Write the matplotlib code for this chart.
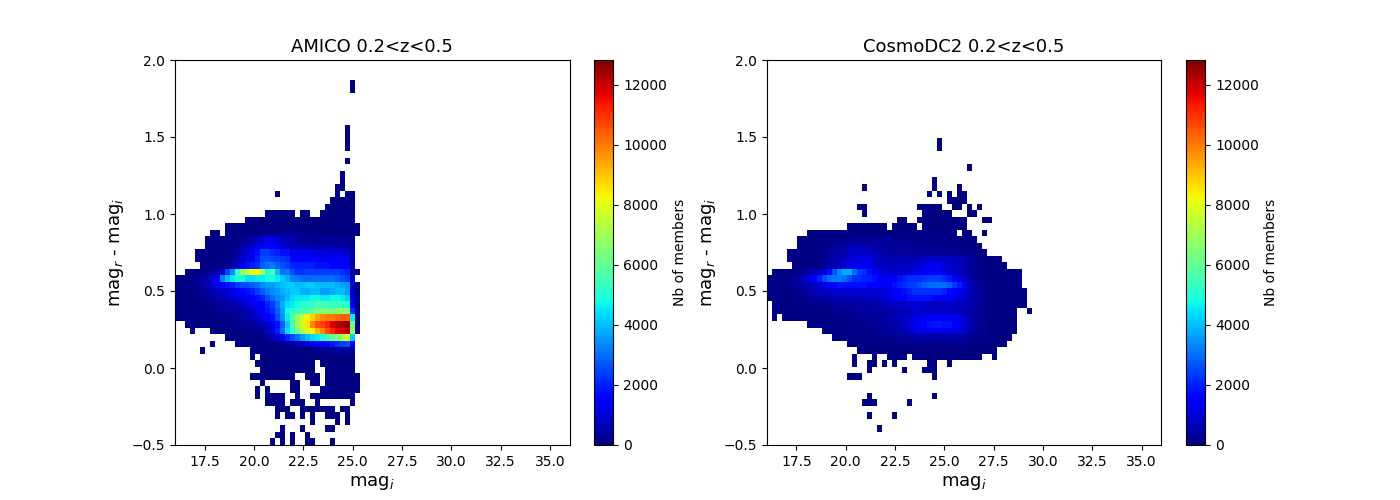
import numpy as np
import matplotlib
matplotlib.use('Agg')
import matplotlib.pyplot as plt

mag_edges = np.linspace(16, 36, 80)
color_edges = np.linspace(-0.5, 2, 60)

# occupied histogram bins, colour row -> (first mag bin, last mag bin)
amico_bins = {
    55: [(35, 35)], 54: [(35, 35)],
    48: [(34, 34)], 47: [(34, 34)], 46: [(34, 34)], 45: [(34, 34)], 43: [(34, 34)],
    41: [(33, 33)], 40: [(33, 33)], 39: [(32, 33)],
    38: [(20, 20), (32, 32), (34, 35)],
    37: [(31, 35)], 36: [(30, 35)],
    35: [(18, 23), (25, 26), (29, 35)],
    34: [(14, 35)], 33: [(10, 36)], 32: [(7, 8), (10, 36)],
    31: [(6, 35)], 30: [(6, 35)], 29: [(4, 35)], 28: [(4, 35)], 27: [(5, 35)],
    26: [(2, 36)], 25: [(0, 35)],
    24: [(0, 36)], 23: [(0, 36)], 22: [(0, 36)], 21: [(0, 36)], 20: [(0, 36)], 19: [(0, 36)],
    18: [(2, 36)], 17: [(3, 3), (7, 36)], 16: [(10, 35)],
    15: [(7, 7), (12, 35)], 14: [(5, 5), (15, 35)], 13: [(15, 15), (17, 35)],
    12: [(16, 27), (29, 35)], 11: [(17, 27), (30, 35)],
    10: [(15, 23), (26, 28), (30, 36)],
    9: [(17, 17), (23, 24), (27, 28), (30, 36)],
    8: [(16, 16), (18, 18), (23, 24), (29, 36)],
    7: [(16, 16), (18, 21), (24, 24), (27, 35)],
    6: [(18, 21), (23, 25), (28, 28), (35, 35)],
    5: [(20, 22), (25, 31), (33, 34)],
    4: [(20, 20), (22, 23), (25, 25), (27, 27), (30, 32), (34, 34)],
    3: [(27, 27), (32, 32), (34, 34)],
    2: [(21, 21), (25, 25), (30, 31)],
    1: [(20, 21), (23, 23), (26, 26)],
    0: [(19, 19), (21, 21), (23, 23), (26, 27), (31, 31)],
}

# members per bin in the dense part, in hundreds
amico_core = {
    32: [1]*18 + [2, 2, 3, 3, 3, 3, 2, 2, 2, 1, 1, 1, 1, 1, 1, 1, 1, 1, 1],
    31: [1, 1, 1, 1, 1, 1, 1, 1, 1, 1, 1, 1, 1, 2, 3, 4, 6, 10, 12, 12, 10, 8, 6, 5, 4, 3, 3, 3, 3, 3, 3, 3, 3, 3, 3, 2, 1],
    30: [1, 1, 1, 1, 1, 1, 1, 1, 1, 1, 1, 2, 3, 5, 7, 9, 13, 13, 14, 15, 14, 9, 8, 6, 6, 6, 5, 5, 5, 5, 5, 5, 5, 4, 4, 2, 1],
    29: [1, 1, 1, 1, 1, 1, 1, 1, 1, 1, 1, 2, 4, 7, 11, 13, 18, 24, 24, 22, 20, 18, 18, 12, 12, 13, 13, 12, 11, 11, 11, 10, 10, 10, 9, 4, 1],
    28: [1, 1, 1, 1, 1, 1, 1, 1, 1, 1, 2, 3, 5, 9, 12, 13, 20, 26, 26, 25, 24, 23, 22, 14, 14, 14, 15, 15, 14, 13, 13, 14, 14, 13, 13, 4, 1],
    27: [1, 1, 1, 1, 1, 1, 1, 1, 1, 2, 3, 5, 8, 12, 18, 20, 22, 28, 30, 32, 28, 26, 24, 20, 20, 20, 20, 20, 18, 18, 18, 16, 16, 16, 15, 5, 1],
    26: [1, 1, 1, 1, 1, 1, 2, 3, 5, 10, 24, 34, 52, 66, 76, 82, 84, 70, 50, 58, 40, 30, 32, 26, 22, 22, 24, 24, 24, 24, 24, 24, 24, 22, 20, 5, 1],
    25: [1, 1, 1, 2, 3, 5, 7, 10, 15, 32, 40, 46, 50, 50, 44, 44, 46, 46, 48, 48, 46, 42, 38, 32, 32, 30, 30, 30, 30, 30, 30, 30, 28, 26, 24, 8, 1],
    24: [1, 1, 1, 2, 2, 4, 6, 9, 12, 14, 18, 20, 24, 26, 26, 28, 30, 34, 36, 36, 38, 40, 42, 42, 40, 40, 42, 42, 40, 40, 40, 40, 38, 36, 36, 8, 1],
    23: [1, 1, 1, 1, 2, 3, 4, 6, 8, 9, 10, 12, 14, 16, 18, 20, 24, 28, 32, 34, 36, 38, 40, 42, 42, 38, 38, 40, 40, 36, 36, 38, 40, 40, 36, 8, 1],
    22: [1, 1, 1, 1, 1, 2, 3, 4, 5, 6, 8, 10, 11, 12, 14, 17, 18, 20, 26, 30, 34, 36, 40, 44, 46, 46, 46, 48, 48, 46, 46, 48, 48, 46, 42, 10, 1],
    21: [1, 1, 1, 1, 1, 1, 2, 2, 3, 4, 4, 5, 6, 8, 10, 12, 14, 16, 20, 24, 30, 38, 44, 46, 48, 52, 52, 52, 56, 56, 54, 54, 54, 54, 50, 14, 1],
    20: [1, 1, 1, 1, 1, 1, 1, 1, 2, 2, 3, 3, 4, 5, 7, 9, 12, 14, 18, 22, 28, 36, 48, 52, 54, 56, 58, 60, 64, 64, 64, 64, 66, 66, 66, 22, 1],
    19: [1, 1, 1, 1, 1, 1, 1, 1, 1, 2, 2, 2, 3, 4, 5, 7, 9, 12, 14, 18, 26, 34, 46, 58, 68, 76, 84, 88, 94, 98, 100, 100, 102, 104, 104, 46, 1],
    18: [1, 1, 1, 1, 1, 1, 1, 1, 1, 1, 1, 2, 2, 3, 3, 4, 5, 7, 9, 12, 18, 28, 42, 56, 70, 78, 86, 98, 106, 108, 112, 118, 122, 124, 126, 62, 1],
    17: [1, 1, 1, 1, 1, 1, 1, 1, 1, 1, 1, 1, 1, 1, 1, 1, 2, 3, 7, 12, 20, 30, 44, 52, 62, 72, 78, 84, 92, 98, 106, 112, 116, 118, 122, 68, 1],
    16: [1, 1, 1, 1, 1, 1, 1, 1, 1, 1, 1, 1, 1, 1, 1, 1, 1, 2, 3, 6, 9, 13, 20, 26, 30, 36, 40, 44, 46, 50, 54, 60, 64, 70, 78, 42, 1],
    15: [1, 1, 1, 1, 1, 1, 1, 1, 1, 1, 1, 1, 1, 1, 1, 1, 1, 1, 1, 1, 1, 2, 3, 5, 6, 8, 10, 12, 14, 15, 17, 19, 22, 24, 26, 16, 1],
    14: [1, 1, 1, 1, 1, 1, 1, 1, 1, 1, 1, 1, 1, 1, 1, 1, 1, 1, 1, 1, 1, 1, 1, 1, 1, 1, 1, 1, 2, 2, 3, 3, 4, 4, 4, 3, 1],
}

cosmo_bins = {
    46: [(34, 34)], 45: [(34, 34)], 42: [(40, 40)], 40: [(33, 33)],
    39: [(19, 19), (33, 33), (38, 38)],
    38: [(32, 32), (34, 34), (36, 36), (38, 39)],
    37: [(36, 39)],
    36: [(18, 19), (30, 34), (37, 38), (40, 40), (42, 42)],
    35: [(19, 19), (31, 36), (40, 41)],
    34: [(26, 27), (30, 39), (43, 44)],
    33: [(16, 23), (25, 29), (31, 39)],
    32: [(8, 37), (39, 40), (43, 43)],
    31: [(6, 41)], 30: [(6, 42)], 29: [(4, 43)], 28: [(4, 46)], 27: [(5, 47)],
    26: [(1, 50)], 25: [(0, 50)], 24: [(0, 50)], 23: [(0, 51)], 22: [(0, 51)],
    21: [(1, 51)], 20: [(1, 49), (52, 52)], 19: [(1, 1), (3, 49)],
    18: [(8, 49)], 17: [(11, 49)], 16: [(13, 48)], 15: [(16, 47)], 14: [(18, 45)],
    13: [(17, 17), (21, 21), (24, 27), (29, 42), (45, 45)],
    12: [(17, 17), (20, 21), (23, 23), (25, 25), (32, 33), (36, 36)],
    11: [(20, 20), (27, 27), (31, 33)],
    10: [(16, 18), (33, 33)],
    7: [(20, 20), (33, 33)],
    6: [(19, 21), (28, 28)],
    4: [(20, 20), (25, 25)],
    2: [(22, 22)],
}

cosmo_core = {
    31: [1, 1, 1, 1, 1, 1, 1, 1, 1, 1, 1, 1, 1, 1, 2, 2, 2, 3, 3, 3, 3, 3, 3, 3, 3, 2, 2, 2, 2, 2, 2, 2, 2, 2, 2, 1, 1, 1, 1, 1, 1, 1],
    30: [1, 1, 1, 1, 1, 1, 1, 1, 1, 1, 1, 1, 2, 3, 4, 4, 6, 6, 6, 6, 6, 5, 4, 4, 3, 3, 3, 3, 3, 3, 2, 2, 2, 2, 2, 2, 2, 1, 1, 1, 1, 1, 1],
    29: [1, 1, 1, 1, 1, 1, 1, 1, 1, 1, 1, 2, 4, 5, 5, 5, 8, 9, 9, 9, 9, 7, 6, 5, 4, 4, 4, 4, 4, 4, 4, 4, 3, 3, 3, 3, 3, 3, 3, 2, 2, 1, 1, 1],
    28: [1, 1, 1, 1, 1, 1, 1, 1, 1, 1, 1, 2, 4, 5, 6, 6, 10, 11, 11, 11, 11, 8, 7, 6, 6, 6, 6, 6, 6, 7, 7, 8, 8, 8, 8, 8, 8, 7, 7, 6, 4, 3, 2, 1, 1, 1, 1],
    27: [1, 1, 1, 1, 1, 1, 1, 1, 1, 2, 2, 3, 5, 6, 8, 9, 12, 13, 13, 13, 13, 9, 8, 8, 7, 7, 8, 8, 8, 9, 10, 12, 14, 14, 13, 10, 9, 8, 8, 5, 4, 3, 2, 1, 1, 1, 1, 1],
    26: [1, 1, 1, 1, 1, 1, 2, 3, 5, 6, 8, 12, 18, 26, 34, 38, 38, 30, 24, 22, 18, 14, 11, 10, 9, 8, 8, 9, 10, 12, 13, 13, 14, 15, 14, 12, 10, 9, 8, 6, 4, 3, 2, 1, 1, 1, 1, 1, 1, 1, 1],
    25: [1, 1, 1, 1, 2, 3, 4, 8, 12, 16, 20, 26, 30, 32, 32, 30, 26, 22, 22, 20, 20, 18, 14, 14, 14, 14, 18, 20, 22, 22, 22, 23, 24, 24, 24, 22, 19, 15, 11, 8, 5, 3, 2, 2, 1, 1, 1, 1, 1, 1, 1],
    24: [1, 1, 1, 1, 2, 3, 4, 5, 6, 8, 10, 12, 14, 16, 18, 18, 18, 18, 18, 18, 16, 16, 16, 14, 14, 18, 20, 22, 24, 24, 26, 28, 30, 30, 30, 30, 28, 24, 20, 14, 7, 5, 3, 2, 1, 1, 1, 1, 1, 1, 1],
    23: [1, 1, 1, 1, 1, 2, 3, 4, 5, 6, 7, 8, 9, 10, 10, 10, 10, 10, 10, 10, 10, 10, 10, 10, 12, 14, 16, 18, 20, 22, 22, 22, 22, 22, 22, 20, 17, 15, 13, 11, 8, 5, 3, 2, 1, 1, 1, 1, 1, 1, 1, 1],
    22: [1, 1, 1, 1, 1, 1, 2, 2, 3, 4, 4, 5, 5, 6, 6, 7, 7, 7, 7, 8, 8, 8, 9, 10, 12, 14, 16, 16, 18, 18, 18, 18, 18, 16, 14, 14, 14, 13, 11, 9, 7, 5, 3, 2, 1, 1, 1, 1, 1, 1, 1, 1],
    21: [1, 1, 1, 1, 1, 1, 1, 1, 2, 2, 2, 3, 3, 3, 4, 4, 4, 4, 5, 5, 5, 5, 6, 6, 7, 8, 8, 8, 10, 10, 10, 8, 8, 8, 8, 8, 8, 8, 7, 7, 6, 4, 3, 2, 2, 1, 1, 1, 1, 1, 1, 1],
    20: [1, 1, 1, 1, 1, 1, 1, 1, 1, 1, 1, 1, 2, 2, 2, 2, 3, 3, 3, 4, 4, 4, 4, 5, 5, 6, 6, 7, 7, 8, 9, 9, 9, 8, 8, 8, 8, 8, 7, 6, 5, 4, 3, 2, 1, 1, 1, 1, 1, 1],
    19: [1, 1, 1, 1, 1, 1, 1, 1, 1, 1, 1, 1, 1, 1, 2, 2, 2, 2, 3, 3, 3, 3, 4, 4, 5, 6, 7, 8, 9, 11, 12, 13, 14, 14, 14, 14, 14, 13, 12, 8, 6, 4, 3, 2, 1, 1, 1, 1, 1, 1],
    18: [1, 1, 1, 1, 1, 1, 1, 1, 1, 1, 1, 1, 1, 1, 1, 1, 2, 2, 2, 2, 3, 3, 3, 4, 4, 5, 6, 8, 10, 12, 14, 16, 18, 19, 19, 18, 18, 16, 14, 10, 6, 4, 3, 2, 1, 1, 1, 1, 1, 1],
    17: [1, 1, 1, 1, 1, 1, 1, 1, 1, 1, 1, 1, 1, 1, 1, 1, 1, 2, 2, 2, 2, 2, 3, 3, 3, 4, 5, 6, 8, 10, 12, 12, 12, 12, 12, 12, 12, 11, 10, 8, 5, 4, 2, 2, 1, 1, 1, 1, 1, 1],
    16: [1, 1, 1, 1, 1, 1, 1, 1, 1, 1, 1, 1, 1, 1, 1, 1, 1, 1, 1, 1, 1, 2, 2, 2, 2, 3, 3, 3, 4, 4, 5, 5, 5, 5, 5, 5, 5, 4, 4, 3, 3, 2, 2, 1, 1, 1, 1, 1, 1],
    15: [1, 1, 1, 1, 1, 1, 1, 1, 1, 1, 1, 1, 1, 1, 1, 1, 1, 1, 1, 1, 1, 1, 1, 2, 2, 2, 2, 2, 2, 2, 2, 2, 2, 2, 2, 2, 2, 2, 2, 2, 2, 1, 1, 1, 1, 1, 1, 1],
}

titles = ['AMICO 0.2<z<0.5', 'CosmoDC2 0.2<z<0.5']
vmax = 12830


def build_counts(bins, core):
    counts = np.full((len(color_edges) - 1, len(mag_edges) - 1), np.nan)
    for row, spans in bins.items():
        for first, last in spans:
            counts[row, first:last + 1] = 20
    for row, values in core.items():
        filled = np.full(counts.shape[1], np.nan)
        filled[:len(values)] = np.array(values) * 100
        keep = ~np.isnan(counts[row]) & ~np.isnan(filled)
        counts[row, keep] = filled[keep]
    return np.ma.masked_invalid(counts)


fig, axes = plt.subplots(1, 2, figsize=(14, 5))

for ax, bins, core, title in zip(axes, [amico_bins, cosmo_bins], [amico_core, cosmo_core], titles):
    mesh = ax.pcolormesh(mag_edges, color_edges, build_counts(bins, core), cmap='jet', vmin=0, vmax=vmax)
    ax.set_xlim(16, 36)
    ax.set_ylim(-0.5, 2)
    ax.set_xlabel('mag$_i$', fontsize=13)
    ax.set_ylabel('mag$_r$ - mag$_i$', fontsize=13)
    ax.set_title(title, fontsize=13)
    cbar = fig.colorbar(mesh, ax=ax)
    cbar.set_label('Nb of members')

plt.savefig('out.png', dpi=100)
